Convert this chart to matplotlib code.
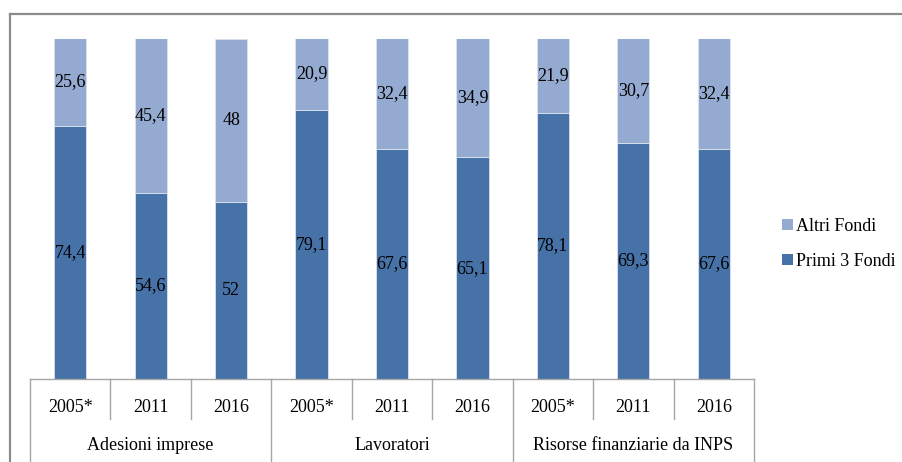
import matplotlib
matplotlib.use("Agg")
import matplotlib.pyplot as plt
from matplotlib.lines import Line2D
from matplotlib.patches import Patch
import matplotlib.transforms as mtransforms

years = ["2005*", "2011", "2016", "2005*", "2011", "2016", "2005*", "2011", "2016"]
groups = ["Adesioni imprese", "Lavoratori", "Risorse finanziarie da INPS"]
primi = [74.4, 54.6, 52, 79.1, 67.6, 65.1, 78.1, 69.3, 67.6]
altri = [25.6, 45.4, 48, 20.9, 32.4, 34.9, 21.9, 30.7, 32.4]
series_names = ["Primi 3 Fondi", "Altri Fondi"]

C_PRIMI = "#4672A8"
C_ALTRI = "#95AAD0"
FONT = "Liberation Serif"
FS = 13

W, H = 902, 462
fig = plt.figure(figsize=(W / 100, H / 100), dpi=100)
ax_left, ax_right = 30 / W, 754 / W
ax_bot, ax_top = (H - 379) / H, (H - 38.5) / H
ax = fig.add_axes([ax_left, ax_bot, ax_right - ax_left, ax_top - ax_bot])

x = list(range(len(primi)))
ax.bar(x, primi, width=0.4, color=C_PRIMI, edgecolor="#DCE3EF", linewidth=0.6, label=series_names[0])
ax.bar(x, altri, width=0.4, bottom=primi, color=C_ALTRI, edgecolor="#DCE3EF", linewidth=0.6, label=series_names[1])

def fmt(v):
    return ("%g" % v).replace(".", ",")

for xi, p, a in zip(x, primi, altri):
    ax.text(xi, p / 2, fmt(p), ha="center", va="center", fontsize=FS, family=FONT, color="black")
    ax.text(xi, p + a / 2, fmt(a), ha="center", va="center", fontsize=FS, family=FONT, color="black")

ax.set_xlim(-0.5, len(primi) - 0.5)
ax.set_ylim(0, 100)
ax.set_xticks([])
ax.set_yticks([])
for s in ax.spines.values():
    s.set_visible(False)

# multi-level category table
trans = mtransforms.blended_transform_factory(ax.transData, ax.transAxes)
axh = 379 - 38.5
def yfrac(py):
    return (379 - py) / axh

lc = "#A6A6A6"
ax.add_line(Line2D([-0.5, len(primi) - 0.5], [0, 0], transform=trans, color=lc, lw=1.0, clip_on=False))
for i in range(len(primi) + 1):
    xb = i - 0.5
    y_end = yfrac(H) if i % 3 == 0 else yfrac(419)
    ax.add_line(Line2D([xb, xb], [0, y_end], transform=trans, color=lc, lw=1.0, clip_on=False))

for xi, yl in zip(x, years):
    ax.text(xi, yfrac(407), yl, transform=trans, ha="center", va="center", fontsize=FS, family=FONT)
for gi, g in enumerate(groups):
    ax.text(gi * 3 + 1, yfrac(446), g, transform=trans, ha="center", va="center", fontsize=FS, family=FONT)

# legend
handles = [Patch(facecolor=C_ALTRI, edgecolor="none"), Patch(facecolor=C_PRIMI, edgecolor="none")]
fig.legend(handles, [series_names[1], series_names[0]], loc="center left",
           bbox_to_anchor=(773 / W, (H - 244) / H), frameon=False,
           prop={"family": FONT, "size": FS}, handlelength=0.6, handleheight=0.6,
           handletextpad=0.15, labelspacing=1.0, borderpad=0)

# outer frame (top and left)
fc = "#8C8C8C"
fig.add_artist(Line2D([9.5 / W, 1.0], [(H - 13.5) / H, (H - 13.5) / H], transform=fig.transFigure, color=fc, lw=1.6))
fig.add_artist(Line2D([9.5 / W, 9.5 / W], [0, (H - 13.5) / H], transform=fig.transFigure, color=fc, lw=1.6))

fig.savefig("out.png", dpi=100, facecolor="white")
